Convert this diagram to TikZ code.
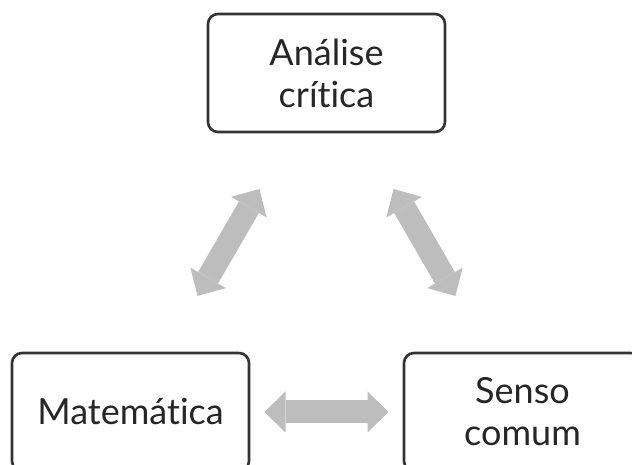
\documentclass[tikz,border=0pt]{standalone}
\usepackage{fontspec}
\setmainfont{Lato}[Ligatures={NoCommon}]
\usetikzlibrary{arrows.meta}
\definecolor{boxline}{HTML}{333333}
\definecolor{arrowgray}{HTML}{BDBDBD}
\begin{document}
\begin{tikzpicture}[x=1pt,y=1pt,
  box/.style={draw=boxline, line width=2.6pt, rounded corners=10pt,
    minimum width=237pt, minimum height=118pt, inner sep=0pt, align=center,
    font=\fontsize{36}{42}\selectfont, text=black!85},
  dblarrow/.style={draw=arrowgray, line width=23pt,
    {Triangle[width=41pt,length=21pt,line width=0pt]}-{Triangle[width=41pt,length=21pt,line width=0pt]},
    shorten <=134pt, shorten >=134pt}]
\useasboundingbox (0,0) rectangle (632,465);
\clip (0,0) rectangle (632,465);
\node[box] (top) at (326.5,392) {Análise\\crítica};
\node[box] (left) at (130.5,53) {Matemática};
\node[box] (right) at (522.5,53) {Senso\\comum};
\draw[dblarrow] (left.center) -- (top.center);
\draw[dblarrow] (top.center) -- (right.center);
\draw[dblarrow] (left.center) -- (right.center);
\end{tikzpicture}
\end{document}
